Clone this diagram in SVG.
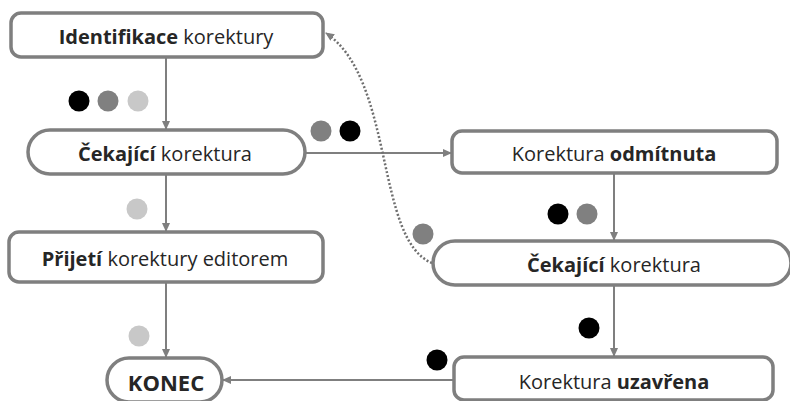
<svg xmlns="http://www.w3.org/2000/svg" width="790" height="401" viewBox="0 0 790 401">
<defs>
<style>
.box{fill:#fff;stroke:#7f7f7f;stroke-width:3.5}
.t{font-family:"Open Sans","Noto Sans",sans-serif;font-size:20px;fill:#262626;text-anchor:middle}
.b{font-weight:bold}
.c{fill:none;stroke:#7f7f7f;stroke-width:2}
.d{fill:none;stroke:#6f6f6f;stroke-width:2.5;stroke-dasharray:2 2}
.k{fill:#000}.g{fill:#808080}.l{fill:#c8c8c8}
</style>
<marker id="ah" markerWidth="9" markerHeight="8" refX="8" refY="4" orient="auto" markerUnits="userSpaceOnUse">
<path d="M0,0 L9,4 L0,8 Z" fill="#7f7f7f"/>
</marker>
</defs>
<g id="connectors">
<path class="c" d="M166,57 V129" marker-end="url(#ah)"/>
<path class="c" d="M305,153 H451" marker-end="url(#ah)"/>
<path class="c" d="M614,173 V240" marker-end="url(#ah)"/>
<path class="c" d="M166,174 V231" marker-end="url(#ah)"/>
<path class="c" d="M166,282 V357" marker-end="url(#ah)"/>
<path class="c" d="M614,285 V356" marker-end="url(#ah)"/>
<path class="c" d="M454,380 H223" marker-end="url(#ah)"/>
<path class="d" d="M432,263 C375,240 395,80 326,33" marker-end="url(#ah)"/>
</g>
<g id="dots">
<circle class="k" cx="79" cy="101" r="10.5"/>
<circle class="g" cx="108" cy="101" r="10.5"/>
<circle class="l" cx="138" cy="101" r="10.5"/>
<circle class="g" cx="321" cy="131" r="10.5"/>
<circle class="k" cx="350" cy="131" r="10.5"/>
<circle class="l" cx="137" cy="209" r="10.5"/>
<circle class="l" cx="139" cy="336" r="10.5"/>
<circle class="k" cx="558" cy="214" r="10.5"/>
<circle class="g" cx="587" cy="214" r="10.5"/>
<circle class="g" cx="423" cy="234" r="10.5"/>
<circle class="k" cx="589" cy="328" r="10.5"/>
<circle class="k" cx="437" cy="360" r="10.5"/>
</g>
<g id="n1">
<rect class="box" x="11" y="13" width="312" height="44" rx="10"/>
<text class="t" x="166" y="44"><tspan class="b">Identifikace</tspan> korektury</text>
</g>
<g id="n2">
<rect class="box" x="28" y="130" width="277" height="44" rx="22"/>
<text class="t" x="165" y="161"><tspan class="b">Čekající</tspan> korektura</text>
</g>
<g id="n3">
<rect class="box" x="452" y="131" width="325" height="42" rx="10"/>
<text class="t" x="614" y="160.5">Korektura <tspan class="b">odmítnuta</tspan></text>
</g>
<g id="n4">
<rect class="box" x="433" y="241" width="358" height="44" rx="22"/>
<text class="t" x="614" y="271.5"><tspan class="b">Čekající</tspan> korektura</text>
</g>
<g id="n5">
<rect class="box" x="9" y="232" width="314" height="50" rx="10"/>
<text class="t" x="165" y="265.5"><tspan class="b">Přijetí</tspan> korektury editorem</text>
</g>
<g id="n6">
<rect class="box" x="454" y="357" width="319" height="43" rx="10"/>
<text class="t" x="614" y="389">Korektura <tspan class="b">uzavřena</tspan></text>
</g>
<g id="n7">
<rect class="box" x="107" y="358" width="115" height="44" rx="22"/>
<text class="t b" x="166" y="390.5" style="font-size:22px">KONEC</text>
</g>
</svg>
